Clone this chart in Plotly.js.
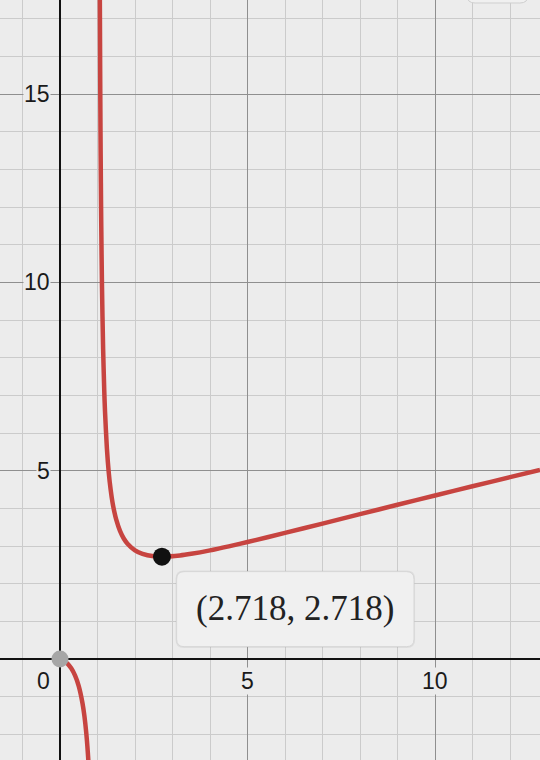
<!DOCTYPE html>
<html>
<head>
<meta charset="utf-8">
<script src="https://cdn.plot.ly/plotly-3.0.1.min.js"></script>
<style>html,body{margin:0;padding:0;background:#ececec;}#chart{width:540px;height:760px;}</style>
</head>
<body>
<div id="chart"></div>
<script>
// Right branch of the curve
const xRight = [1.05, 1.06, 1.07, 1.08, 1.09, 1.1, 1.12, 1.15, 1.18, 1.2, 1.25, 1.3, 1.35, 1.4, 1.45, 1.5, 1.6, 1.7, 1.8, 2.0, 2.2, 2.5, 2.718, 3.2, 3.5, 4, 4.5, 5, 6, 7, 8, 9, 10, 11, 12, 12.8];
const yRight = [21.52, 18.19, 15.81, 14.03, 12.65, 11.54, 9.88, 8.23, 7.13, 6.58, 5.60, 4.95, 4.50, 4.16, 3.902, 3.70, 3.40, 3.20, 3.062, 2.885, 2.790, 2.728, 2.718, 2.751, 2.794, 2.885, 2.992, 3.107, 3.349, 3.597, 3.847, 4.096, 4.343, 4.587, 4.829, 5.021];
// Left branch of the curve
const xLeft = [0, 0.02, 0.05, 0.1, 0.2, 0.3, 0.4, 0.5, 0.6, 0.65, 0.7, 0.73, 0.75, 0.76, 0.77, 0.78, 0.79];
const yLeft = [0, -0.0051, -0.0167, -0.0434, -0.124, -0.249, -0.4365, -0.721, -1.175, -1.509, -1.963, -2.320, -2.607, -2.769, -2.946, -3.139, -3.351];
// Highlighted points
const minPoint = {x: [2.718], y: [2.718]};
const holePoint = {x: [0], y: [0]};
const pointLabel = "(2.718, 2.718)";
// Tick labels
const xTickVals = [5, 10];
const yTickVals = [5, 10, 15];

const BG = '#ececec';
const RED = '#c74440';

const traces = [
  {x: xRight, y: yRight, mode: 'lines', line: {color: RED, width: 4.5, shape: 'spline', smoothing: 0.8}, hoverinfo: 'skip'},
  {x: xLeft, y: yLeft, mode: 'lines', line: {color: RED, width: 4.5, shape: 'spline', smoothing: 0.8}, hoverinfo: 'skip'},
  {x: holePoint.x, y: holePoint.y, mode: 'markers', marker: {color: '#a6a6a6', size: 17}, hoverinfo: 'skip', cliponaxis: false},
  {x: minPoint.x, y: minPoint.y, mode: 'markers', marker: {color: '#111111', size: 18}, hoverinfo: 'skip'}
];

const labelFont = {family: 'Liberation Sans, Arial, sans-serif', size: 23, color: '#1a1a1a'};
const annotations = [];
yTickVals.forEach(v => annotations.push({x: 0, y: v, xref: 'x', yref: 'y', text: String(v), showarrow: false,
  xanchor: 'right', yanchor: 'middle', xshift: -9, font: labelFont, bgcolor: BG, borderpad: 0}));
xTickVals.forEach(v => annotations.push({x: v, y: 0, xref: 'x', yref: 'y', text: String(v), showarrow: false,
  xanchor: 'center', yanchor: 'top', yshift: -8, font: labelFont, bgcolor: BG, borderpad: 0}));
annotations.push({x: 0, y: 0, xref: 'x', yref: 'y', text: '0', showarrow: false,
  xanchor: 'right', yanchor: 'top', xshift: -9, yshift: -8, font: labelFont, bgcolor: BG, borderpad: 0});
annotations.push({x: 6.27, y: 1.33, xref: 'x', yref: 'y', text: pointLabel, showarrow: false,
  xanchor: 'center', yanchor: 'middle', font: {family: 'Liberation Serif, DejaVu Serif, serif', size: 35, color: '#222'}});

function roundRect(x0, y0, x1, y1, rx, ry) {
  return `M${x0 + rx},${y0} H${x1 - rx} Q${x1},${y0} ${x1},${y0 + ry} V${y1 - ry} Q${x1},${y1} ${x1 - rx},${y1} H${x0 + rx} Q${x0},${y1} ${x0},${y1 - ry} V${y0 + ry} Q${x0},${y0} ${x0 + rx},${y0} Z`;
}

const shapes = [
  {type: 'path', xref: 'x', yref: 'y', path: roundRect(3.08, 0.29, 9.47, 2.35, 0.22, 0.22), fillcolor: 'rgba(0,0,0,0.06)', line: {width: 0}, layer: 'above'},
  {type: 'path', xref: 'x', yref: 'y', path: roundRect(3.11, 0.327, 9.44, 2.32, 0.2, 0.2), fillcolor: '#f0f0f0', line: {color: '#d6d6d6', width: 1}, layer: 'above'},
  {type: 'path', xref: 'paper', yref: 'paper', path: roundRect(467/540, 1 - 3/760, 528/540, 1.02, 0.015, 0.01), fillcolor: '#f0f0f0', line: {color: '#cfcfcf', width: 1}, layer: 'above'}
];

const layout = {
  width: 540, height: 760,
  margin: {l: 0, r: 0, t: 0, b: 0, pad: 0},
  paper_bgcolor: BG, plot_bgcolor: BG,
  showlegend: false,
  xaxis: {range: [-1.6, 12.8], dtick: 5, tick0: 0, showticklabels: false, ticks: '',
    showgrid: true, gridcolor: '#8f8f8f', gridwidth: 1,
    minor: {dtick: 1, tick0: 0, showgrid: true, gridcolor: '#cbcbcb', gridwidth: 1, ticks: ''},
    zeroline: true, zerolinecolor: '#111', zerolinewidth: 2, showline: false, fixedrange: true},
  yaxis: {range: [-2.683, 17.503], dtick: 5, tick0: 0, showticklabels: false, ticks: '',
    showgrid: true, gridcolor: '#8f8f8f', gridwidth: 1,
    minor: {dtick: 1, tick0: 0, showgrid: true, gridcolor: '#cbcbcb', gridwidth: 1, ticks: ''},
    zeroline: true, zerolinecolor: '#111', zerolinewidth: 2, showline: false, fixedrange: true},
  annotations: annotations,
  shapes: shapes
};

Plotly.newPlot('chart', traces, layout, {staticPlot: true, displayModeBar: false});
</script>
</body>
</html>
